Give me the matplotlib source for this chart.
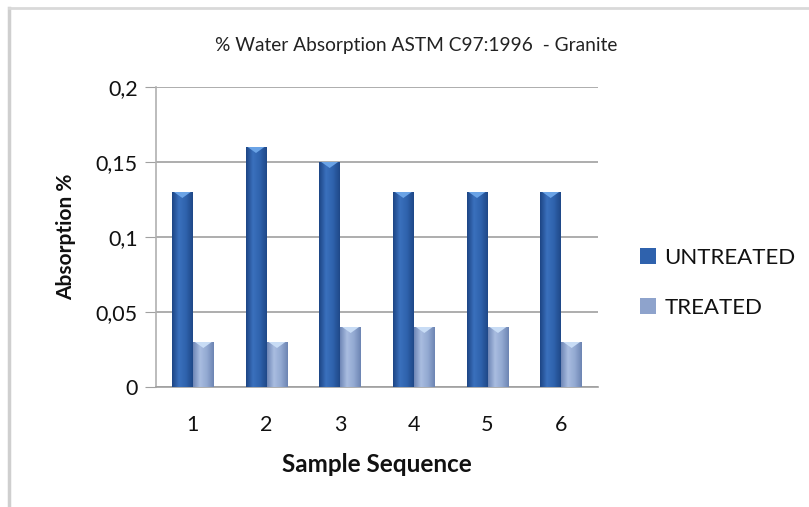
import numpy as np
import matplotlib
matplotlib.use("Agg")
import matplotlib.pyplot as plt
from matplotlib.colors import LinearSegmentedColormap
from matplotlib.lines import Line2D

samples = ["1", "2", "3", "4", "5", "6"]
untreated = [0.13, 0.16, 0.15, 0.13, 0.13, 0.13]
treated = [0.03, 0.03, 0.04, 0.04, 0.04, 0.03]
yticks = [0, 0.05, 0.1, 0.15, 0.2]
ytick_labels = ["0", "0,05", "0,1", "0,15", "0,2"]
series_names = ["UNTREATED", "TREATED"]
title = "% Water Absorption ASTM C97:1996  - Granite"

plt.rcParams["font.family"] = ["Lato", "DejaVu Sans"]

fig = plt.figure(figsize=(8.09, 5.07), dpi=100)
ax = fig.add_axes([156/809, 1-387/507, (598-156)/809, (387-87)/507])

# figure border (partial frame as in reference)
fig.add_artist(Line2D([9/809, 9/809], [0, 1-8/507], transform=fig.transFigure,
                      color="#cfcfcf", lw=2.5))
fig.add_artist(Line2D([9/809, 1], [1-8/507, 1-8/507], transform=fig.transFigure,
                      color="#d9d9d9", lw=2))

x = np.arange(len(samples))
w = 0.285
b1 = ax.bar(x - w/2, untreated, w, color="#2f62ad", label=series_names[0], zorder=3)
b2 = ax.bar(x + w/2, treated, w, color="#8ea3cc", label=series_names[1], zorder=3)

cm_u = LinearSegmentedColormap.from_list("u", ["#1d4585", "#3a70bd", "#2f63ad", "#1f4888"])
cm_t = LinearSegmentedColormap.from_list("t", ["#6f87b6", "#a9bde0", "#93a9d2", "#6d85b3"])
grad = np.linspace(0, 1, 64).reshape(1, -1)
for bars, cm, cap in ((b1, cm_u, "#6aa3e6"), (b2, cm_t, "#c8dcf5")):
    for p in bars:
        x0, y0 = p.get_x(), p.get_y()
        bw, bh = p.get_width(), p.get_height()
        im = ax.imshow(grad, cmap=cm, aspect="auto",
                       extent=(x0, x0 + bw, y0, y0 + bh), zorder=3.5)
        im.set_clip_path(p)
        ax.fill([x0 + bw*0.1, x0 + bw*0.9, x0 + bw*0.5],
                [y0 + bh, y0 + bh, y0 + bh - 0.004], color=cap, zorder=4, lw=0)

ax.set_xlim(-0.5, len(samples) - 0.5)
ax.set_ylim(0, 0.2)
ax.set_yticks(yticks)
ax.set_yticklabels(ytick_labels, fontsize=15.5, color="#111111")
ax.set_xticks(x)
ax.set_xticklabels(samples, fontsize=15.5, color="#111111")
ax.tick_params(axis="y", length=8, color="#a0a0a0", pad=5)
ax.tick_params(axis="x", length=0, pad=20)
ax.grid(axis="y", color="#a0a0a0", lw=1.2, zorder=0)
for s in ("top", "right"):
    ax.spines[s].set_visible(False)
ax.spines["left"].set_color("#b0b0b0")
ax.spines["bottom"].set_color("#a0a0a0")
ax.spines["left"].set_linewidth(1.2)
ax.spines["bottom"].set_linewidth(1.2)

ax.set_xlabel("Sample Sequence", fontsize=17.5, fontweight="bold", labelpad=13, color="#111111")
ax.set_ylabel("Absorption %", fontsize=15, fontweight="bold", labelpad=14, color="#111111")
fig.text(416/809, 1-45/507, title, ha="center", va="center", fontsize=13.8, color="#222222")

leg = fig.legend(handles=[b1, b2], labels=series_names, loc="center left",
                 bbox_to_anchor=(640/809, 1-283/507), frameon=False, fontsize=16,
                 borderpad=0, borderaxespad=0,
                 handlelength=0.7, handleheight=0.7, handletextpad=0.4, labelspacing=1.35)
for t in leg.get_texts():
    t.set_color("#111111")

fig.savefig("out.png", dpi=100, facecolor="white")
